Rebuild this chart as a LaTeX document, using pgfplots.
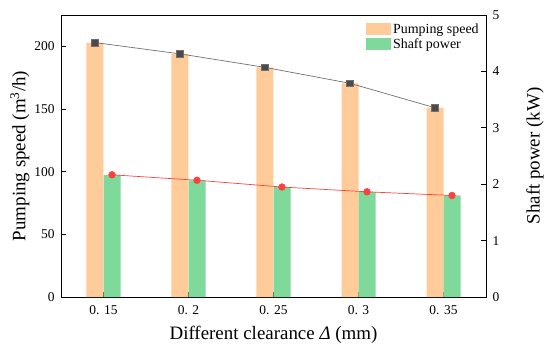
\documentclass[border=0pt]{standalone}
\usepackage{pgfplots}
\pgfplotsset{compat=1.18}
\usepackage{fontspec}
\setmainfont{Liberation Serif}
\definecolor{orangeC}{HTML}{FFCC99}
\definecolor{greenC}{HTML}{7FD99B}
\definecolor{redC}{HTML}{FF4040}
\definecolor{markC}{HTML}{4A4A4A}
\definecolor{lineC}{HTML}{707070}
\begin{document}
\begin{tikzpicture}
\pgfplotsset{every axis/.append style={
  scale only axis, width=425bp, height=282bp,
  xmin=-0.5, xmax=4.5,
  /pgf/number format/assume math mode=true,
  tick label style={font=\fontsize{13.5}{15}\selectfont},
  label style={font=\fontsize{19}{22}\selectfont},
  tick style={black, line width=0.8pt},
  major tick length=5bp,
  axis line style={line width=0.9pt},
}}
\begin{axis}[
  name=main,
  ymin=0, ymax=225, ytick={0,50,...,200},
  xtick={0,1,2,3,4}, xticklabels={0. 15, 0. 2, 0. 25, 0. 3, 0. 35},
  xtick pos=bottom, ytick pos=left,
  xticklabel style={yshift=-5bp},
  yticklabel style={xshift=-3bp},
  xlabel={Different clearance {\itshape Δ} (mm)},
  ylabel={Pumping speed (m\textsuperscript{3}/h)},
  xlabel style={at={(axis description cs:0.5,-0.135)}, anchor=center},
  ylabel style={at={(axis description cs:-0.0965,0.5)}, anchor=center},
  legend style={at={(0.995,0.985)}, anchor=north east, draw=none, fill=none,
    font=\fontsize{14}{16}\selectfont, row sep=0pt},
  legend cell align=left,
  legend image code/.code={\fill[#1] (0bp,-6bp) rectangle (25bp,6bp);},
]
\addplot[ybar, bar width=0.2, bar shift=-0.1, fill=orangeC, draw=none, forget plot]
  coordinates {(0,203) (1,194) (2,183.2) (3,170.5) (4,151)};
\addplot[color=lineC, line width=0.7pt, mark=square*, mark size=3.3bp,
  mark options={fill=markC, draw=lineC, line width=0.5pt}, forget plot]
  coordinates {(-0.1,203) (0.9,194) (1.9,183.2) (2.9,170.5) (3.9,151)};
\addlegendimage{fill=orangeC, draw=none}
\addlegendentry{Pumping speed}
\addlegendimage{fill=greenC, draw=none}
\addlegendentry{Shaft power}
\end{axis}
\begin{axis}[
  axis y line*=right, axis x line=none,
  ymin=0, ymax=5, ytick={0,1,...,5},
  yticklabel style={xshift=3bp},
  ylabel={Shaft power (kW)},
  ylabel style={at={(axis description cs:1.115,0.5)}, anchor=center},
]
\addplot[ybar, bar width=0.2, bar shift=0.1, fill=greenC, draw=none]
  coordinates {(0,2.167) (1,2.07) (2,1.95) (3,1.865) (4,1.80)};
\addplot[color=redC, line width=0.7pt, mark=*, mark size=3.3bp,
  mark options={fill=redC, draw=redC}]
  coordinates {(0.1,2.167) (1.1,2.07) (2.1,1.95) (3.1,1.865) (4.1,1.80)};
\end{axis}
\pgfresetboundingbox
\path (main.south west) ++(-61bp,-53bp) coordinate (bbA);
\path (main.north east) ++(64bp,15bp) coordinate (bbB);
\useasboundingbox (bbA) rectangle (bbB);
\end{tikzpicture}
\end{document}
